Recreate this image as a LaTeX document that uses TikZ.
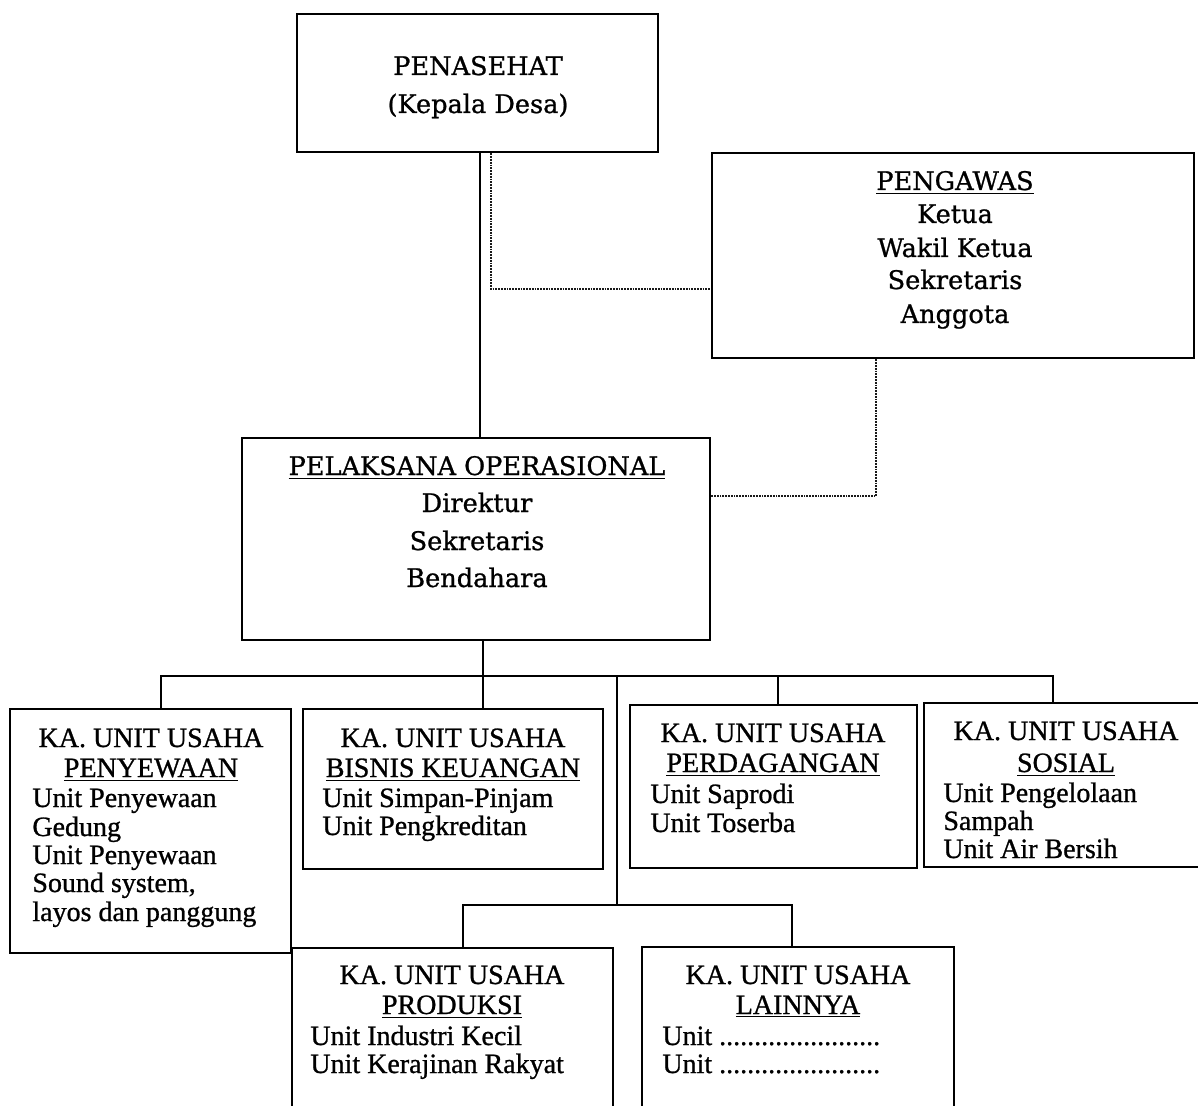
\documentclass[tikz,border=0pt]{standalone}
\usepackage{fontspec}
\setmainfont[RawFeature={embolden=0.9}]{Liberation Serif}
\newfontfamily\topfont[RawFeature={embolden=0.9}]{DejaVu Serif}
\usetikzlibrary{fit}
\newcommand\tline[4]{\node[#1] (#2) at (#3) {#4};}
\begin{document}
\begin{tikzpicture}[x=0.5pt,y=-0.5pt,
  box/.style={draw, line width=1.4pt, inner sep=0pt, rectangle},
  conn/.style={line width=1.2pt},
  dotline/.style={line width=1.1pt, dash pattern=on 0.9pt off 0.5pt, black!90},
  tophd/.style={font={\topfont\fontsize{12.8pt}{15pt}\selectfont}, anchor=base, inner sep=0pt},
  lohd/.style={font={\fontsize{14pt}{16pt}\selectfont}, anchor=base, inner sep=0pt},
  loit/.style={font={\fontsize{14pt}{16pt}\selectfont}, anchor=base west, inner sep=0pt}]
\useasboundingbox (0,0) rectangle (1198,1106);
\fill[white] (0,0) rectangle (1198,1106);
\clip (0,0) rectangle (1198,1106);

% boxes
\node[box, fit={(297,14) (658,152)}] (pen) {};
\node[box, fit={(712,153) (1194,358)}] (peng) {};
\node[box, fit={(242,438) (710,640)}] (pel) {};
\node[box, fit={(10,709) (291,953)}] (sew) {};
\node[box, fit={(303,709) (603,869)}] (bis) {};
\node[box, fit={(630,705) (917,868)}] (per) {};
\node[box, fit={(924,703) (1210,867)}] (sos) {};
\node[box, fit={(292,948) (613,1140)}] (pro) {};
\node[box, fit={(642,947) (954,1140)}] (lai) {};

% texts: top
\tline{tophd}{penA}{478,75}{PENASEHAT}
\tline{tophd}{penB}{478,113}{(Kepala Desa)}
\tline{tophd}{pengA}{955,190}{\underline{PENGAWAS}}
\tline{tophd}{pengB}{955,223}{Ketua}
\tline{tophd}{pengC}{955,257}{Wakil Ketua}
\tline{tophd}{pengD}{955,289}{Sekretaris}
\tline{tophd}{pengE}{955,323}{Anggota}
\tline{tophd}{pelA}{477,475}{\underline{PELAKSANA OPERASIONAL}}
\tline{tophd}{pelB}{477,512}{Direktur}
\tline{tophd}{pelC}{477,550}{Sekretaris}
\tline{tophd}{pelD}{477,587}{Bendahara}

% penyewaan
\tline{lohd}{sewA}{151,747}{KA. UNIT USAHA}
\tline{lohd}{sewB}{151,777}{\underline{PENYEWAAN}}
\tline{loit}{sewC}{32,807}{Unit Penyewaan}
\tline{loit}{sewD}{32,836}{Gedung}
\tline{loit}{sewE}{32,864}{Unit Penyewaan}
\tline{loit}{sewF}{32,892}{Sound system,}
\tline{loit}{sewG}{32,921}{layos dan panggung}
% bisnis
\tline{lohd}{bisA}{453,747}{KA. UNIT USAHA}
\tline{lohd}{bisB}{453,777}{\underline{BISNIS KEUANGAN}}
\tline{loit}{bisC}{322,807}{Unit Simpan-Pinjam}
\tline{loit}{bisD}{322,835}{Unit Pengkreditan}
% perdagangan
\tline{lohd}{perA}{773,742}{KA. UNIT USAHA}
\tline{lohd}{perB}{773,772}{\underline{PERDAGANGAN}}
\tline{loit}{perC}{650,803}{Unit Saprodi}
\tline{loit}{perD}{650,832}{Unit Toserba}
% sosial
\tline{lohd}{sosA}{1066,740}{KA. UNIT USAHA}
\tline{lohd}{sosB}{1066,772}{\underline{SOSIAL}}
\tline{loit}{sosC}{943,802}{Unit Pengelolaan}
\tline{loit}{sosD}{943,830}{Sampah}
\tline{loit}{sosE}{943,858}{Unit Air Bersih}
% produksi
\tline{lohd}{proA}{452,984}{KA. UNIT USAHA}
\tline{lohd}{proB}{452,1014}{\underline{PRODUKSI}}
\tline{loit}{proC}{310,1045}{Unit Industri Kecil}
\tline{loit}{proD}{310,1073}{Unit Kerajinan Rakyat}
% lainnya
\tline{lohd}{laiA}{798,984}{KA. UNIT USAHA}
\tline{lohd}{laiB}{798,1014}{\underline{LAINNYA}}
\tline{loit}{laiC}{662,1045}{Unit .......................}
\tline{loit}{laiD}{662,1073}{Unit .......................}

% junction coordinates
\coordinate (vA) at (480,300);
\coordinate (d1) at (491,289);
\coordinate (d2) at (876,496);
\coordinate (b0) at (483,676);
\coordinate (busL) at (161,676);
\coordinate (busP) at (778,676);
\coordinate (busR) at (1053,676);
\coordinate (mid) at (617,676);
\coordinate (lbus) at (617,905);
\coordinate (lbL) at (463,905);
\coordinate (lbR) at (792,905);

% connectors
\draw[conn] (pen.south -| vA) -- (pel.north -| vA);
\draw[dotline] (pen.south -| d1) -- (d1) -- (d1 -| peng.west);
\draw[dotline] (peng.south -| d2) -- (d2) -- (d2 -| pel.east);
\draw[conn] (pel.south -| b0) -- (bis.north -| b0);
\draw[conn] (sew.north -| busL) -- (busL) -- (busR) -- (sos.north -| busR);
\draw[conn] (busP) -- (per.north -| busP);
\draw[conn] (mid) -- (lbus);
\draw[conn] (pro.north -| lbL) -- (lbL) -- (lbR) -- (lai.north -| lbR);
\end{tikzpicture}
\end{document}
